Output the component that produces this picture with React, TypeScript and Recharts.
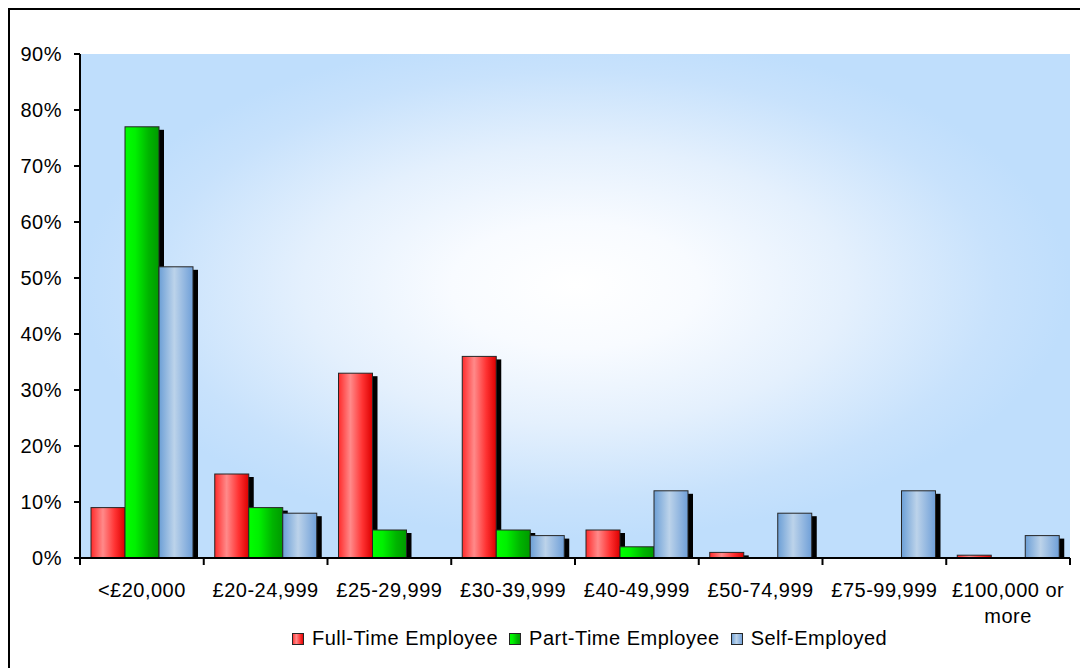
import { Bar, BarChart, CartesianGrid, Legend, XAxis, YAxis } from "recharts";

const categories = [
    "<£20,000",
    "£20-24,999",
    "£25-29,999",
    "£30-39,999",
    "£40-49,999",
    "£50-74,999",
    "£75-99,999",
    "£100,000 or more",
];
const fullTime = [9, 15, 33, 36, 5, 1, 0, 0.5];
const partTime = [77, 9, 5, 5, 2, 0, 0, 0];
const selfEmployed = [52, 8, 0, 4, 12, 8, 12, 4];
const yTicks = [0, 10, 20, 30, 40, 50, 60, 70, 80, 90];

const series = [
    { key: "fullTime", name: "Full-Time Employee", grad: "gradRed" },
    { key: "partTime", name: "Part-Time Employee", grad: "gradGreen" },
    { key: "selfEmployed", name: "Self-Employed", grad: "gradBlue" },
];

const data = categories.map((category, i) => ({
    category,
    fullTime: fullTime[i],
    partTime: partTime[i],
    selfEmployed: selfEmployed[i],
}));

const FONT = '"Liberation Sans", Arial, sans-serif';

// bar with an offset black drop shadow behind it
function ShadowBar(props: any) {
    const { x, y, width, height, fill } = props;
    if (!height || height <= 0) return <g />;
    const sy = Math.min(y + 3, y + height - 1);
    return (
        <g>
            <rect x={x + 5} y={sy} width={width} height={y + height - sy} fill="#000" />
            <rect x={x} y={y} width={width} height={height} fill={fill} stroke="#262626" strokeWidth={1} />
        </g>
    );
}

// tick marks sit between categories, long labels wrap onto a second line
function CategoryTick(props: any) {
    const { x, y, payload, index, visibleTicksCount, width } = props;
    const half = payload.offset || (width ? width / (visibleTicksCount * 2) : 0);
    const words = String(payload.value).split(" ");
    const lines = words.length > 2 ? [words.slice(0, -1).join(" "), words[words.length - 1]] : [String(payload.value)];
    return (
        <g>
            <line x1={x - half} x2={x - half} y1={y} y2={y + 7} stroke="#000" strokeWidth={2} />
            {index === visibleTicksCount - 1 && (
                <line x1={x + half} x2={x + half} y1={y} y2={y + 7} stroke="#000" strokeWidth={2} />
            )}
            <text x={x} y={y + 39} textAnchor="middle" fill="#000" fontSize={20}>
                {lines.map((l, i) => (
                    <tspan key={i} x={x} dy={i === 0 ? 0 : 26}>
                        {l}
                    </tspan>
                ))}
            </text>
        </g>
    );
}

function LegendRow() {
    return (
        <div style={{ display: "flex", alignItems: "center", fontSize: 20, color: "#000", whiteSpace: "nowrap" }}>
            {series.map((s) => (
                <div key={s.key} style={{ display: "flex", alignItems: "center", marginRight: 11 }}>
                    <svg width={12} height={12} style={{ display: "block" }}>
                        <rect x={0.5} y={0.5} width={11} height={11} fill={`url(#${s.grad})`} stroke="#262626" />
                    </svg>
                    <span style={{ marginLeft: 8 }}>{s.name}</span>
                </div>
            ))}
        </div>
    );
}

export default function App() {
    return (
        <div
            style={{
                width: 1078,
                height: 658,
                borderTop: "2px solid #000",
                borderLeft: "2px solid #000",
                fontFamily: FONT,
                letterSpacing: "0.5px",
                background: "#fff",
            }}
        >
            <BarChart
                width={1078}
                height={658}
                data={data}
                margin={{ top: 44, right: 18, bottom: 0, left: 0 }}
                barCategoryGap={11}
                barGap={0}
            >
                <defs>
                    <radialGradient id="plotBg" cx="0.5" cy="0.46" r="0.5">
                        <stop offset="0" stopColor="#ffffff" />
                        <stop offset="0.25" stopColor="#f8fbff" />
                        <stop offset="0.55" stopColor="#e4f0fd" />
                        <stop offset="0.85" stopColor="#c8e2fc" />
                        <stop offset="1" stopColor="#bfdefc" />
                    </radialGradient>
                    <linearGradient id="gradRed" x1="0" y1="0" x2="1" y2="0">
                        <stop offset="0" stopColor="#ff2b2b" />
                        <stop offset="0.35" stopColor="#ff8a8a" />
                        <stop offset="0.7" stopColor="#ff3333" />
                        <stop offset="1" stopColor="#dc0000" />
                    </linearGradient>
                    <linearGradient id="gradGreen" x1="0" y1="0" x2="1" y2="0">
                        <stop offset="0" stopColor="#00ff00" />
                        <stop offset="0.3" stopColor="#00f000" />
                        <stop offset="0.7" stopColor="#00b400" />
                        <stop offset="1" stopColor="#009a00" />
                    </linearGradient>
                    <linearGradient id="gradBlue" x1="0" y1="0" x2="1" y2="0">
                        <stop offset="0" stopColor="#6c9fd6" />
                        <stop offset="0.45" stopColor="#bcd3ea" />
                        <stop offset="1" stopColor="#6f9fd8" />
                    </linearGradient>
                </defs>
                <CartesianGrid horizontal={false} vertical={false} fill="url(#plotBg)" fillOpacity={1} />
                <XAxis
                    dataKey="category"
                    interval={0}
                    height={110}
                    tickLine={false}
                    tickSize={0}
                    tickMargin={0}
                    axisLine={{ stroke: "#000", strokeWidth: 2 }}
                    tick={<CategoryTick />}
                />
                <YAxis
                    width={70}
                    domain={[0, 90]}
                    ticks={yTicks}
                    interval={0}
                    tickFormatter={(v: number) => `${v}%`}
                    tickSize={6}
                    tickMargin={12}
                    axisLine={{ stroke: "#000", strokeWidth: 2 }}
                    tickLine={{ stroke: "#000", strokeWidth: 2 }}
                    tick={{ fill: "#000", fontSize: 20 }}
                />
                <Legend
                    layout="horizontal"
                    verticalAlign="middle"
                    align="center"
                    content={<LegendRow />}
                    wrapperStyle={{ left: 282, top: 617, width: "auto" }}
                />
                {series.map((s) => (
                    <Bar
                        key={s.key}
                        dataKey={s.key}
                        name={s.name}
                        fill={`url(#${s.grad})`}
                        shape={<ShadowBar />}
                        isAnimationActive={false}
                    />
                ))}
            </BarChart>
        </div>
    );
}
